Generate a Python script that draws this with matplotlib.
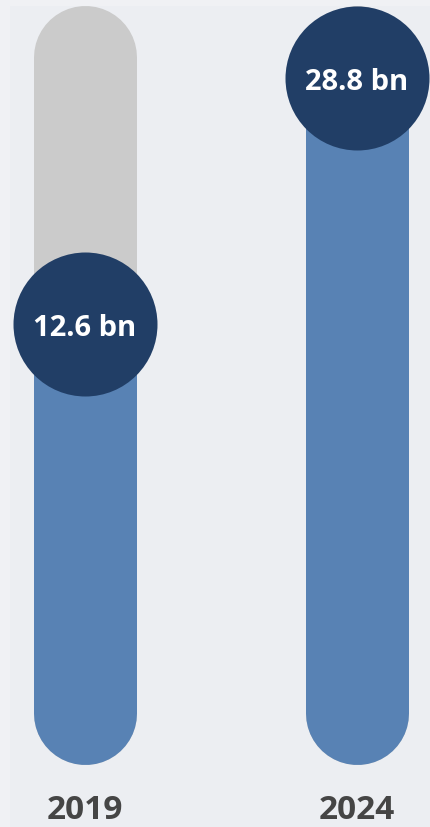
import matplotlib
matplotlib.use("Agg")
import matplotlib.pyplot as plt

# Data
years = ["2019", "2024"]
values = [12.6, 28.8]
value_labels = ["12.6 bn", "28.8 bn"]

# Style constants
TRACK_TOP = 30.15
TRACK_BOTTOM = -13.05
BG = "#ECEEF2"
GRAY = "#CBCBCB"
BLUE = "#5882B4"
NAVY = "#213E66"
TEXT = "#454545"

plt.rcParams['font.family'] = ['Open Sans', 'DejaVu Sans']

fig = plt.figure(figsize=(4.3, 8.28), dpi=100)
fig.patch.set_facecolor("#F0F1F4")
ax = fig.add_axes([10 / 430, 0, 1 - 10 / 430, 1 - 7 / 828])
ax.set_facecolor(BG)
for s in ax.spines.values():
    s.set_visible(False)
ax.set_xticks([])
ax.set_yticks([])

# pixel mapping: x center 85 & 357 px ; y: v -> 516.3 - 15.185 v
px_per_x = 272.0
x0_px = 85.0
ax.set_xlim((10 - x0_px) / px_per_x, (430 - x0_px) / px_per_x)
a, b = 516.3, 15.185
ax.set_ylim((a - 828) / b, (a - 7) / b)

lw_pt = 103 * 72 / 100.0
xs = list(range(len(years)))
for x, v in zip(xs, values):
    ax.plot([x, x], [TRACK_BOTTOM, TRACK_TOP], color=GRAY, lw=lw_pt,
            solid_capstyle='round', zorder=1)
    ax.plot([x, x], [TRACK_BOTTOM, v], color=BLUE, lw=lw_pt,
            solid_capstyle='round', zorder=2)

diam_pt = 144 * 72 / 100.0
ax.scatter(xs, values, s=diam_pt ** 2, color=NAVY, zorder=3, linewidths=0)

for x, v, lab in zip(xs, values, value_labels):
    ax.annotate(lab, xy=(x, v), xytext=(0, -8.0), textcoords='offset points',
                ha='center', va='baseline', color='white', fontsize=21,
                fontweight='bold', zorder=4)

for x, yr in zip(xs, years):
    ax.text(x, 9 / 821, yr, transform=ax.get_xaxis_transform(), ha='center',
            va='baseline', color=TEXT, fontsize=24, fontweight='bold')

fig.savefig("out.png", dpi=100, facecolor=fig.get_facecolor())
